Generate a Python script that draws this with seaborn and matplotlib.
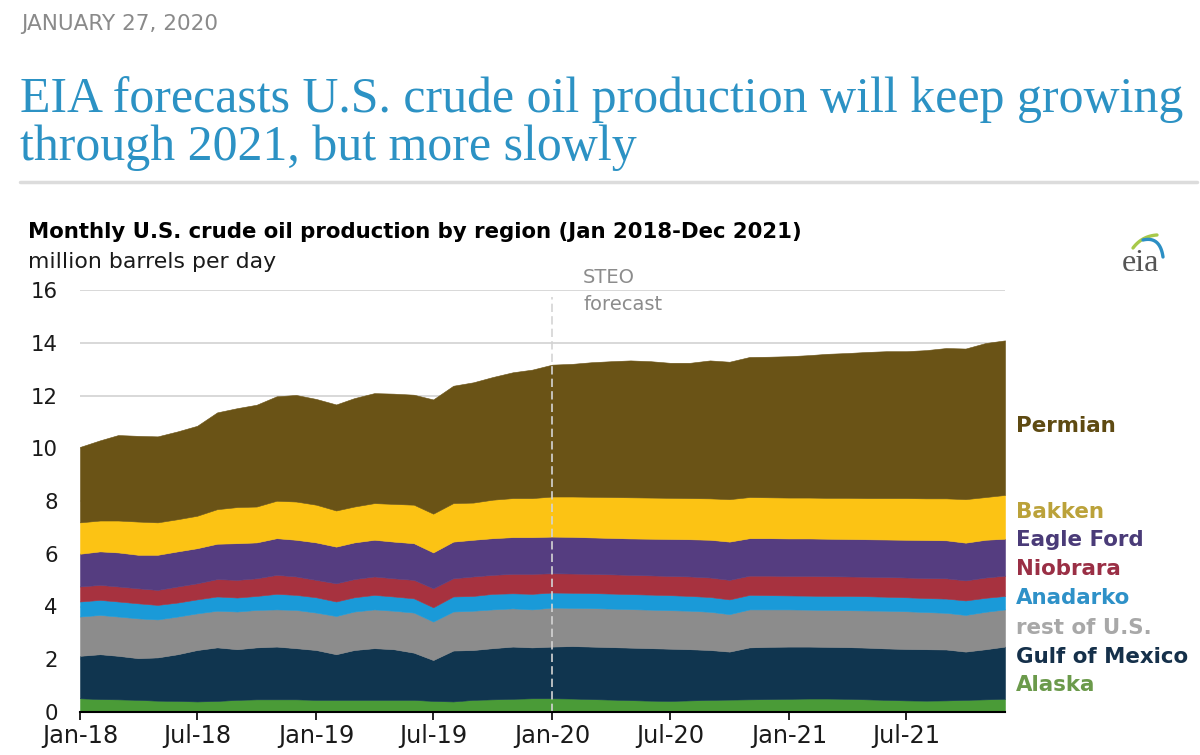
import numpy as np
import pandas as pd
import matplotlib.pyplot as plt
import matplotlib.dates as mdates
import seaborn as sns
from matplotlib.lines import Line2D

# monthly U.S. crude oil production by region, million barrels per day
months = pd.date_range('2018-01-01', '2021-12-01', freq='MS')

alaska = [0.52, 0.49, 0.48, 0.46, 0.43, 0.42, 0.40, 0.42, 0.46, 0.48, 0.48, 0.48,
          0.46, 0.46, 0.46, 0.46, 0.46, 0.46, 0.42, 0.40, 0.46, 0.48, 0.50, 0.52,
          0.52, 0.51, 0.49, 0.47, 0.45, 0.43, 0.42, 0.44, 0.46, 0.47, 0.48, 0.49,
          0.50, 0.51, 0.51, 0.50, 0.48, 0.46, 0.44, 0.43, 0.44, 0.46, 0.48, 0.50]
gulf_of_mexico = [1.61, 1.70, 1.65, 1.58, 1.64, 1.77, 1.95, 2.03, 1.92, 1.97, 2.00, 1.94,
                  1.89, 1.73, 1.89, 1.96, 1.92, 1.79, 1.55, 1.93, 1.89, 1.94, 1.98, 1.93,
                  1.96, 1.99, 1.99, 1.99, 1.99, 1.99, 1.98, 1.94, 1.89, 1.82, 1.97, 1.98,
                  1.98, 1.97, 1.96, 1.96, 1.96, 1.95, 1.95, 1.95, 1.93, 1.83, 1.90, 1.98]
rest_of_us = [1.49, 1.49, 1.49, 1.51, 1.44, 1.43, 1.39, 1.39, 1.43, 1.42, 1.41, 1.45,
              1.42, 1.45, 1.46, 1.47, 1.46, 1.52, 1.46, 1.48, 1.49, 1.47, 1.45, 1.44,
              1.48, 1.45, 1.46, 1.46, 1.46, 1.46, 1.46, 1.46, 1.45, 1.42, 1.44, 1.42,
              1.41, 1.40, 1.40, 1.40, 1.41, 1.43, 1.43, 1.41, 1.39, 1.39, 1.42, 1.41]
anadarko = [0.57, 0.57, 0.57, 0.57, 0.55, 0.53, 0.53, 0.54, 0.53, 0.53, 0.59, 0.57,
            0.58, 0.55, 0.54, 0.55, 0.54, 0.54, 0.54, 0.57, 0.56, 0.59, 0.57, 0.59,
            0.57, 0.57, 0.57, 0.57, 0.57, 0.57, 0.57, 0.56, 0.56, 0.56, 0.55, 0.54,
            0.53, 0.53, 0.53, 0.54, 0.54, 0.53, 0.53, 0.53, 0.54, 0.55, 0.53, 0.51]
niobrara = [0.57, 0.57, 0.57, 0.57, 0.57, 0.61, 0.61, 0.66, 0.67, 0.67, 0.72, 0.70,
            0.66, 0.69, 0.69, 0.70, 0.69, 0.70, 0.72, 0.69, 0.74, 0.72, 0.74, 0.76,
            0.73, 0.73, 0.73, 0.73, 0.73, 0.73, 0.73, 0.74, 0.74, 0.74, 0.73, 0.74,
            0.74, 0.75, 0.75, 0.74, 0.74, 0.75, 0.75, 0.76, 0.77, 0.76, 0.77, 0.77]
eagle_ford = [1.24, 1.27, 1.29, 1.27, 1.33, 1.33, 1.33, 1.34, 1.39, 1.36, 1.39, 1.39,
              1.42, 1.39, 1.39, 1.39, 1.39, 1.39, 1.36, 1.39, 1.39, 1.39, 1.39, 1.39,
              1.39, 1.39, 1.38, 1.38, 1.38, 1.39, 1.40, 1.41, 1.43, 1.45, 1.42, 1.42,
              1.42, 1.42, 1.42, 1.42, 1.42, 1.42, 1.43, 1.44, 1.44, 1.43, 1.43, 1.40]
bakken = [1.19, 1.17, 1.21, 1.26, 1.23, 1.22, 1.23, 1.31, 1.37, 1.36, 1.42, 1.45,
          1.43, 1.37, 1.36, 1.39, 1.43, 1.46, 1.47, 1.46, 1.41, 1.46, 1.48, 1.48,
          1.52, 1.53, 1.54, 1.55, 1.56, 1.56, 1.56, 1.56, 1.57, 1.61, 1.56, 1.55,
          1.55, 1.55, 1.55, 1.56, 1.56, 1.57, 1.58, 1.58, 1.59, 1.65, 1.62, 1.66]
permian = [2.86, 3.04, 3.24, 3.25, 3.26, 3.33, 3.41, 3.67, 3.75, 3.86, 3.96, 4.04,
           4.01, 4.02, 4.11, 4.17, 4.18, 4.17, 4.33, 4.45, 4.56, 4.65, 4.77, 4.87,
           5.00, 5.03, 5.10, 5.15, 5.19, 5.17, 5.12, 5.13, 5.23, 5.21, 5.31, 5.33,
           5.36, 5.40, 5.46, 5.49, 5.54, 5.57, 5.57, 5.62, 5.70, 5.71, 5.84, 5.86]

regions = ['Alaska', 'Gulf of Mexico', 'rest of U.S.', 'Anadarko',
           'Niobrara', 'Eagle Ford', 'Bakken', 'Permian']
fill_colors = ['#4a9b37', '#10354f', '#8c8c8c', '#1a9ad8',
               '#a7323f', '#553d80', '#fcc314', '#6a5316']
label_colors = ['#6b9a4b', '#15304a', '#a8a8a8', '#2e91c8',
                '#9a2f45', '#4a3b78', '#bba23a', '#5e4a12']
label_y = [1.02, 2.10, 3.19, 4.33, 5.43, 6.53, 7.60, 10.85]

forecast_start = pd.Timestamp('2020-01-01')

df = pd.DataFrame({'Alaska': alaska, 'Gulf of Mexico': gulf_of_mexico,
                   'rest of U.S.': rest_of_us, 'Anadarko': anadarko,
                   'Niobrara': niobrara, 'Eagle Ford': eagle_ford,
                   'Bakken': bakken, 'Permian': permian}, index=months)

sns.set_theme(style='white')
plt.rcParams['font.family'] = ['DejaVu Sans']

fig = plt.figure(figsize=(12, 7.55), dpi=100)
ax = fig.add_axes([80 / 1200, 1 - 712 / 755, 925 / 1200, 422 / 755])

ax.stackplot(df.index, [df[r].values for r in regions], colors=fill_colors,
             edgecolor='face', linewidth=0.4)

ax.set_xlim(months[0], months[-1])
ax.set_ylim(0, 16)
ax.set_yticks(range(0, 17, 2))
ax.yaxis.grid(True, color='#d6d6d6', linewidth=1.3)
ax.xaxis.grid(False)
ax.set_axisbelow(True)

ax.xaxis.set_major_locator(mdates.MonthLocator(bymonth=[1, 7]))
ax.xaxis.set_major_formatter(mdates.DateFormatter('%b-%y'))
ax.tick_params(axis='x', bottom=True, length=6, width=1.2, color='black',
               labelsize=17.3, labelcolor='#1a1a1a', pad=3)
ax.tick_params(axis='y', left=False, length=0, labelsize=15.3,
               labelcolor='#1a1a1a', pad=16)

sns.despine(ax=ax, left=True, top=True, right=True)
ax.spines['bottom'].set_color('black')
ax.spines['bottom'].set_linewidth(1.5)

# forecast divider
ax.axvline(forecast_start, ymin=0, ymax=(712 - 297) / 422, color='#d4d4d4',
           linewidth=1.2, linestyle=(0, (5, 2.5)))
fig.text(583 / 1200, 1 - 283 / 755, 'STEO', color='#8c8c8c', fontsize=14,
         va='baseline', ha='left')
fig.text(583 / 1200, 1 - 310 / 755, 'forecast', color='#8c8c8c', fontsize=14,
         va='baseline', ha='left')

# region labels on the right
for name, col, yv in zip(regions, label_colors, label_y):
    ax.text(1.012, yv, name, transform=ax.get_yaxis_transform(), color=col,
            fontsize=15.4, fontweight='bold', va='center', ha='left')

# headers
fig.text(21 / 1200, 1 - 30 / 755, 'JANUARY 27, 2020', color='#8a8a8a',
         fontsize=15.6, va='baseline', ha='left')
fig.text(20 / 1200, 1 - 112 / 755,
         'EIA forecasts U.S. crude oil production will keep growing',
         family='Liberation Serif', color='#2c92c4', fontsize=35.9,
         va='baseline', ha='left')
fig.text(20 / 1200, 1 - 160 / 755, 'through 2021, but more slowly',
         family='Liberation Serif', color='#2c92c4', fontsize=35.9,
         va='baseline', ha='left')
fig.add_artist(Line2D([20 / 1200, 1197 / 1200], [1 - 182 / 755, 1 - 182 / 755],
                      transform=fig.transFigure, color='#dcdcdc', linewidth=2.5))
fig.text(28 / 1200, 1 - 238 / 755,
         'Monthly U.S. crude oil production by region (Jan 2018-Dec 2021)',
         color='black', fontsize=15.3, fontweight='bold', va='baseline', ha='left')
fig.text(28 / 1200, 1 - 268 / 755, 'million barrels per day', color='#1a1a1a',
         fontsize=15.8, va='baseline', ha='left')

# eia logo
fig.text(1122 / 1200, 1 - 271 / 755, 'eia', family='Liberation Serif',
         color='#555555', fontsize=23, va='baseline', ha='left')
t = np.linspace(0, 1, 30)
gx = (1 - t) ** 2 * 1133 + 2 * (1 - t) * t * 1142 + t ** 2 * 1157
gy = (1 - t) ** 2 * 248 + 2 * (1 - t) * t * 236 + t ** 2 * 235
bx = (1 - t) ** 2 * 1143 + 2 * (1 - t) * t * 1160 + t ** 2 * 1163
by = (1 - t) ** 2 * 240 + 2 * (1 - t) * t * 236 + t ** 2 * 257
fig.add_artist(Line2D(gx / 1200, 1 - gy / 755, transform=fig.transFigure,
                      color='#a8c94a', linewidth=2.4, solid_capstyle='round'))
fig.add_artist(Line2D(bx / 1200, 1 - by / 755, transform=fig.transFigure,
                      color='#2c8fc4', linewidth=2.4, solid_capstyle='round'))

fig.savefig('out.png', dpi=100, facecolor='white')
